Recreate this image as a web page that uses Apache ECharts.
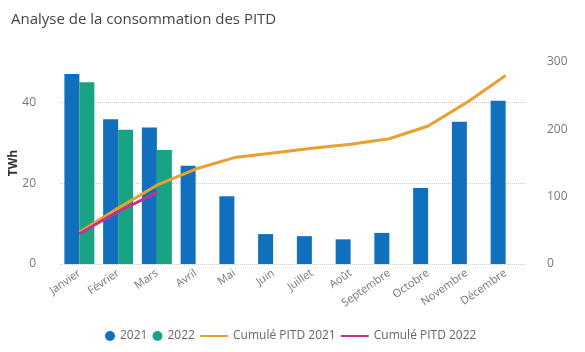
<!DOCTYPE html>
<html>
<head>
<meta charset="utf-8">
<script src="https://cdn.jsdelivr.net/npm/echarts@6/dist/echarts.min.js"></script>
<style>
  html, body { margin: 0; padding: 0; background: #fff; }
  #chart { width: 585px; height: 352px; }
</style>
</head>
<body>
<div id="chart"></div>
<script>
const months = ["Janvier", "Février", "Mars", "Avril", "Mai", "Juin", "Juillet", "Août", "Septembre", "Octobre", "Novembre", "Décembre"];
const conso2021 = [47, 35.8, 33.8, 24.3, 16.8, 7.4, 6.9, 6.1, 7.7, 18.8, 35.2, 40.4];
const conso2022 = [45, 33.2, 28.2, null, null, null, null, null, null, null, null, null];
const cumul2021 = [47, 83, 117, 141, 158, 165, 172, 178, 186, 205, 240, 280];
const cumul2022 = [45, 78, 106, null, null, null, null, null, null, null, null, null];
const leftTicks = [0, 20, 40];

const blue = "#1170BE";
const green = "#18A384";
const orange = "#E8A030";
const pink = "#C8308F";
const font = "Open Sans";
const legendText = { fontSize: 12, color: "#666", fontFamily: font };

const renderChart = () => {
  var myChart = echarts.init(document.getElementById("chart"));

  var option = {
    animation: false,
    textStyle: { fontFamily: font },
    title: {
      text: "Analyse de la consommation des PITD",
      left: 6,
      top: 7,
      textStyle: { fontSize: 15, fontWeight: "normal", color: "#444", fontFamily: font },
    },
    // two legends: circles for bars, plain strokes for the lines
    legend: [
      {
        bottom: 5,
        left: 100,
        itemGap: 5,
        itemWidth: 10,
        itemHeight: 10,
        icon: "circle",
        textStyle: legendText,
        data: ["2021", "2022"],
      },
      {
        bottom: 5,
        left: 195,
        itemGap: 5,
        itemWidth: 28,
        itemHeight: 2,
        icon: "rect",
        textStyle: legendText,
        data: ["Cumulé PITD 2021", "Cumulé PITD 2022"],
      },
    ],
    grid: { left: 60, right: 60, top: 62, bottom: 88, outerBoundsMode: "none" },
    xAxis: {
      type: "category",
      data: months,
      axisLine: { show: false },
      axisTick: { show: false },
      axisLabel: { rotate: 35, color: "#777", fontSize: 11, margin: 8 },
    },
    yAxis: [
      {
        type: "value",
        min: 0,
        max: 50,
        interval: 20,
        name: "TWh",
        nameLocation: "middle",
        nameRotate: 90,
        nameGap: 40,
        nameMoveOverlap: false,
        nameTextStyle: { color: "#333", fontSize: 12, fontWeight: "bold" },
        axisLabel: { color: "#777", fontSize: 12, margin: 24, showMaxLabel: false },
        splitLine: { show: false },
      },
      {
        type: "value",
        min: 0,
        max: 300,
        interval: 100,
        axisLabel: { color: "#777", fontSize: 12, margin: 22 },
        splitLine: { show: false },
      },
    ],
    series: [
      {
        // empty series only carrying the dotted grid lines, kept behind the bars
        name: "grid",
        type: "line",
        z: 0,
        data: [],
        markLine: {
          z: 0,
          silent: true,
          symbol: "none",
          label: { show: false },
          lineStyle: { color: "#ccc", type: "dotted", width: 1 },
          data: leftTicks.map((v) => ({ yAxis: v })),
        },
      },
      {
        name: "2021",
        type: "bar",
        data: conso2021,
        barWidth: 15,
        barGap: "0%",
        itemStyle: { color: blue },
      },
      {
        name: "2022",
        type: "bar",
        data: conso2022,
        barWidth: 15,
        itemStyle: { color: green },
      },
      {
        name: "Cumulé PITD 2021",
        type: "line",
        yAxisIndex: 1,
        data: cumul2021,
        symbol: "none",
        lineStyle: { color: orange, width: 3 },
        itemStyle: { color: orange },
      },
      {
        name: "Cumulé PITD 2022",
        type: "line",
        yAxisIndex: 1,
        data: cumul2022,
        symbol: "none",
        lineStyle: { color: pink, width: 3 },
        itemStyle: { color: pink },
      },
    ],
  };

  myChart.setOption(option);
};

renderChart();
</script>
</body>
</html>
